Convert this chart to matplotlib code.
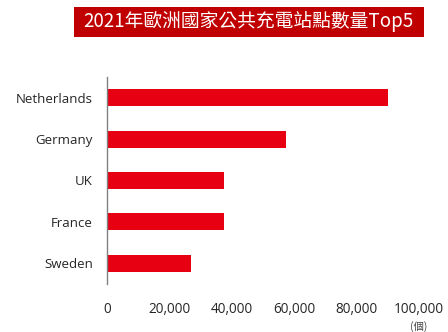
import matplotlib.pyplot as plt
from matplotlib.patches import Rectangle
from matplotlib.ticker import FuncFormatter

plt.rcParams['font.family'] = ['Open Sans', 'Noto Sans CJK TC', 'DejaVu Sans']

countries = ['Netherlands', 'Germany', 'UK', 'France', 'Sweden']
stations = [90000, 57400, 37500, 37500, 26900]
x_ticks = [0, 20000, 40000, 60000, 80000, 100000]
title = '2021年歐洲國家公共充電站點數量Top5'
unit = '(個)'

fig = plt.figure(figsize=(4.48, 3.32), dpi=100)
ax = fig.add_axes([0.2388, 0.1446, 0.6964, 0.6235])

ax.barh(range(len(countries)), stations, height=0.41, color='#e60012')
ax.set_yticks(range(len(countries)))
ax.set_yticklabels(countries)
ax.set_ylim(len(countries) - 0.5, -0.5)
ax.set_xlim(0, 100000)
ax.set_xticks(x_ticks)
ax.xaxis.set_major_formatter(FuncFormatter(lambda v, p: f'{int(v):,}'))

for s in ['top', 'right', 'bottom']:
    ax.spines[s].set_visible(False)
ax.spines['left'].set_color('#808080')
ax.spines['left'].set_linewidth(1.0)
ax.tick_params(axis='both', length=0, colors='#262626')
ax.tick_params(axis='x', pad=13, labelsize=9.8)
ax.tick_params(axis='y', pad=10, labelsize=9.5)

ax.text(1.0, -0.205, unit, transform=ax.transAxes, ha='center', va='center',
        fontsize=7.5, color='#404040', family=['Noto Sans CJK TC'])

# title banner
fig.patches.append(Rectangle((0.165, 0.8886), 0.781, 0.0904, transform=fig.transFigure,
                             facecolor='#c00000', edgecolor='none'))
fig.text(0.5547, 0.9338, title, ha='center', va='center', color='white',
         fontsize=13.5, fontweight='medium', family=['Noto Sans CJK TC', 'DejaVu Sans'])

fig.savefig('out.png', dpi=100)
